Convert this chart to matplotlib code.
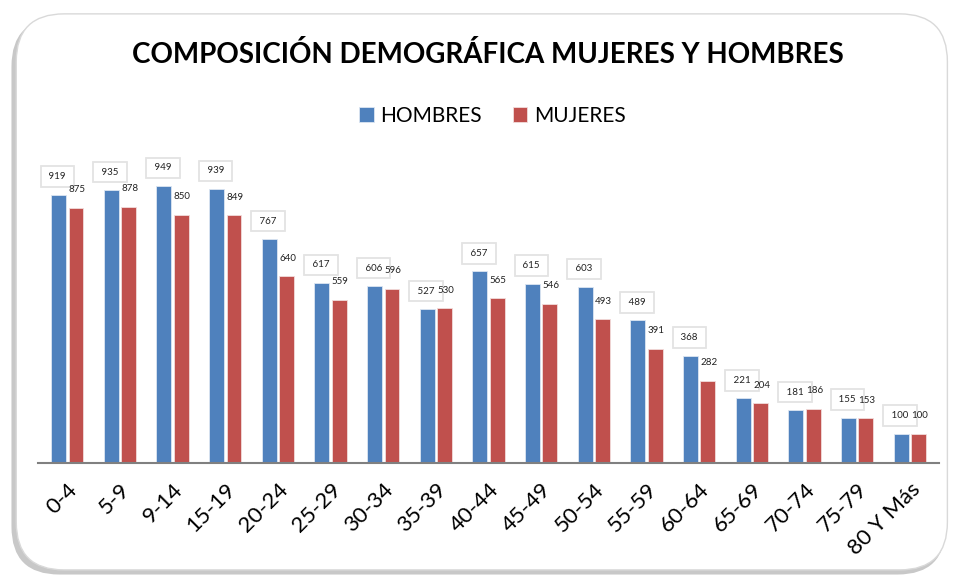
import numpy as np
import matplotlib.pyplot as plt
from matplotlib.patches import FancyBboxPatch

plt.rcParams['font.family'] = ['Lato', 'DejaVu Sans']

grupos = ['0-4', '5-9', '9-14', '15-19', '20-24', '25-29', '30-34', '35-39', '40-44',
          '45-49', '50-54', '55-59', '60-64', '65-69', '70-74', '75-79', '80 Y Más']
hombres = [919, 935, 949, 939, 767, 617, 606, 527, 657, 615, 603, 489, 368, 221, 181, 155, 100]
mujeres = [875, 878, 850, 849, 640, 559, 596, 530, 565, 546, 493, 391, 282, 204, 186, 153, 100]

azul = '#4f81bd'
rojo = '#c0504d'

fig = plt.figure(figsize=(9.56, 5.78), dpi=100)

# marco redondeado con sombra
sombra = FancyBboxPatch((0.012, 0.006), 0.977, 0.962, boxstyle='round,pad=0,rounding_size=0.05',
                        transform=fig.transFigure, facecolor='#c8c8c8', edgecolor='none',
                        mutation_aspect=956 / 578, zorder=-2)
marco = FancyBboxPatch((0.017, 0.014), 0.974, 0.962, boxstyle='round,pad=0,rounding_size=0.05',
                       transform=fig.transFigure, facecolor='white', edgecolor='#d9d9d9',
                       linewidth=1, mutation_aspect=956 / 578, zorder=-1)
fig.patches.extend([sombra, marco])

ax = fig.add_axes([0.040, 0.199, 0.942, 0.52])
ax.set_facecolor('none')

x = np.arange(len(grupos))
w = 0.28
off = 0.165
ax.bar(x - off, hombres, w, color=azul, edgecolor='#dce6f2', linewidth=0.6, label='HOMBRES')
ax.bar(x + off, mujeres, w, color=rojo, edgecolor='#f2dcdb', linewidth=0.6, label='MUJERES')

# etiquetas: las de hombres con recuadro gris
for i in range(len(grupos)):
    ax.text(x[i] - off - 0.02, hombres[i] + 62, ' %d ' % hombres[i], ha='center', va='center',
            fontsize=7, color='#222222',
            bbox=dict(boxstyle='square,pad=0.6', facecolor='white', edgecolor='#e3e3e3', linewidth=1.3))
    ax.text(x[i] + off + 0.02, mujeres[i] + 62, str(mujeres[i]), ha='center', va='center', fontsize=7,
            color='#222222')

ax.set_xlim(-0.55, len(grupos) - 0.45)
ax.set_ylim(0, 1030)
ax.set_yticks([])
for s in ['top', 'right', 'left']:
    ax.spines[s].set_visible(False)
ax.spines['bottom'].set_color('#808080')
ax.spines['bottom'].set_linewidth(1.5)
ax.set_xticks(x)
ax.set_xticklabels(grupos, rotation=45, ha='right', rotation_mode='anchor', fontsize=16)
ax.tick_params(axis='x', length=0, pad=12)

fig.text(0.51, 0.905, 'COMPOSICIÓN DEMOGRÁFICA MUJERES Y HOMBRES', ha='center', va='center',
         fontsize=20, fontweight='bold')
fig.legend(loc='center', bbox_to_anchor=(0.515, 0.80), ncol=2, frameon=False, fontsize=15,
           handlelength=0.7, handleheight=0.7, columnspacing=1.5, handletextpad=0.3)

fig.savefig('out.png', dpi=100)
